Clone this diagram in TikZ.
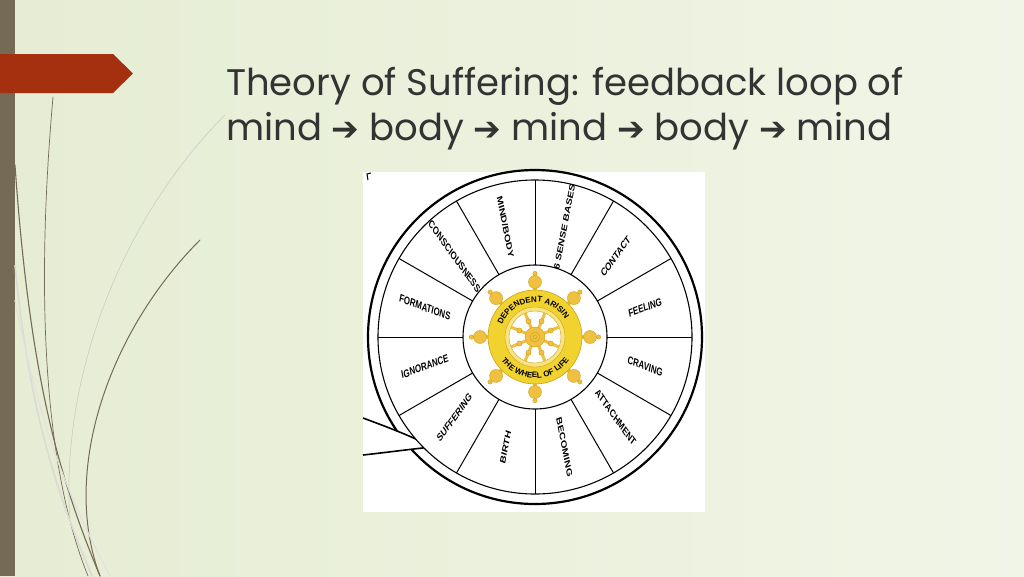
\documentclass[tikz,border=0pt]{standalone}
\usepackage{fontspec}
\setmainfont{Poppins}
\newfontfamily\arrfont{DejaVu Sans}
\newfontfamily\lblfont{Liberation Sans}
\usetikzlibrary{decorations.text,calc}
\definecolor{bgA}{HTML}{E6EDD3}
\definecolor{bgB}{HTML}{F1F5E7}
\definecolor{barc}{HTML}{746A55}
\definecolor{redc}{HTML}{A5300F}
\definecolor{yel}{HTML}{F2D22E}
\definecolor{yeld}{HTML}{C9A21A}
\definecolor{knobc}{HTML}{F0C040}
\tikzset{
  stem/.style={draw=barc,line cap=round},
  lbl/.style={font=\lblfont\bfseries\fontsize{11}{12}\selectfont,xscale=.72},
  knob/.style={fill=knobc,draw=yeld,line width=.4pt},
  ttl/.style={anchor=base west,inner sep=0,font=\fontsize{37}{42}\selectfont,text=black!80},
}
\newcommand{\seglabel}[2]{%
  \pgfmathsetmacro{\rot}{cos(#1)>=0 ? #1 : #1+180}
  \node[lbl,rotate=\rot] (L#1) at (#1:114) {#2};}
\newcommand{\arr}{{\arrfont\bfseries\fontsize{33}{36}\selectfont ➔}}
\begin{document}
\begin{tikzpicture}[x=1pt,y=-1pt]
\useasboundingbox (0,0) rectangle (1024,576);
\shade[left color=bgA,right color=bgB] (0,0) rectangle (1024,576);
\fill[barc] (0,0) rectangle (15,576);
% stems
\draw[stem,line width=1.1pt] (15,165) .. controls (30,380) and (60,480) .. (100,576);
\draw[stem,line width=.7pt] (53,97) .. controls (35,300) and (45,470) .. (88,576);
\draw[stem,line width=1pt] (200,240) .. controls (110,330) and (60,470) .. (100,576);
\draw[barc!35,line width=.6pt] (225,115) .. controls (120,220) and (60,380) .. (70,520);
\draw[barc!25,line width=1.6pt] (15,265) .. controls (30,420) and (60,500) .. (92,576);
\draw[barc!20,line width=1.2pt] (15,300) .. controls (40,430) and (70,500) .. (110,576);
% red arrow
\fill[redc] (0,54) -- (113,54) -- (133,73.5) -- (113,93) -- (0,93) -- cycle;
% title
\node[ttl] (t1) at (226,95) {Theory of Suffering: feedback loop of};
\node[ttl] (t2) at (226,140) {mind \arr\ body \arr\ mind \arr\ body \arr\ mind};
% picture
\fill[white] (363,172) rectangle (705,512);
\begin{scope}[shift={(535,337)},y=1pt]
\draw[line width=2.2pt] (0,0) circle (167);
% bubble tail
\fill[white] (-172,-81) -- (-117,-103) -- (-105,-111) -- (-172,-118) -- cycle;
\draw[line width=1.6pt] (-172,-81) .. controls (-145,-91) and (-130,-97) .. (-117,-103);
\draw[line width=1.6pt] (-172,-118) .. controls (-145,-115) and (-123,-112) .. (-103,-110);
\draw[line width=1pt] (-167,157) -- (-168,163) -- (-164,164);
\draw[line width=1.1pt,fill=white] (0,0) circle (157);
\draw[line width=1.1pt] (0,0) circle (72);
\foreach \a in {0,30,...,330} \draw[line width=1pt] (\a:72) -- (\a:157);
\seglabel{105}{MIND/BODY}
\seglabel{75}{6 SENSE BASES}
\seglabel{45}{CONTACT}
\seglabel{15}{FEELING}
\seglabel{-15}{CRAVING}
\seglabel{-45}{ATTACHMENT}
\seglabel{-75}{BECOMING}
\seglabel{-105}{BIRTH}
\seglabel{-135}{SUFFERING}
\seglabel{165}{FORMATIONS}
\seglabel{195}{IGNORANCE}
\seglabel{135}{CONSCIOUSNESS}
% dharma wheel
\foreach \a in {0,45,...,315}{
  \draw[knobc,line width=4pt] (\a:44) -- (\a:54);
  \draw[knob] (\a:55) circle (6.5);
  \draw[knob] (\a:63.5) circle (2.2);
}
\draw[fill=yel,draw=yeld,line width=.6pt] (0,0) circle (47);
\draw[fill=yel!60!white,draw=yeld] (0,0) circle (30);
\draw[fill=white,draw=yeld] (0,0) circle (26);
\foreach \a in {22.5,67.5,...,337.5}{
  \draw[knobc,line width=3pt] (\a:8) -- (\a:26);
  \draw[knob] (\a:17) circle (2.6);
}
\draw[knob] (0,0) circle (10);
\draw[knob] (0,0) circle (5);
\draw[knob] (0,0) circle (2);
\path[decorate,decoration={text along path,text align=center,
  text={|\lblfont\bfseries\fontsize{8}{9}\selectfont|DEPENDENT ARISING}}]
  (150:35) arc[start angle=150,end angle=30,radius=35];
\path[decorate,decoration={text along path,text align=center,
  text={|\lblfont\bfseries\fontsize{8}{9}\selectfont|THE WHEEL OF LIFE}}]
  (-150:41) arc[start angle=-150,end angle=-30,radius=41];
\end{scope}
\end{tikzpicture}
\end{document}
